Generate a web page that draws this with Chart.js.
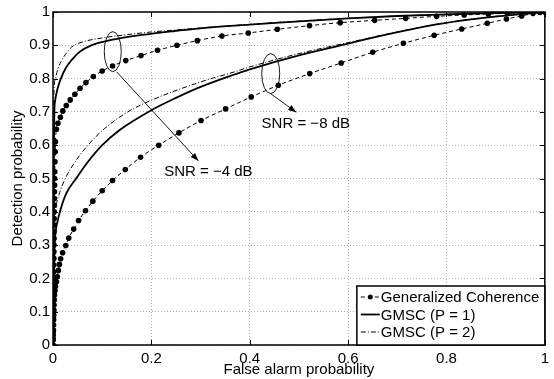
<!DOCTYPE html>
<html>
<head>
<meta charset="utf-8">
<script src="https://cdn.jsdelivr.net/npm/chart.js@4.4.0/dist/chart.umd.min.js"></script>
<style>
  html, body { margin: 0; padding: 0; background: #fff; }
  #wrap { width: 554px; height: 379px; }
</style>
</head>
<body>
<div id="wrap"><canvas id="roc" width="554" height="379"></canvas></div>
<script>
// tick values
const xTicks = [0, 0.2, 0.4, 0.6, 0.8, 1];
const yTicks = [0, 0.1, 0.2, 0.3, 0.4, 0.5, 0.6, 0.7, 0.8, 0.9, 1];

// Generalized Coherence, SNR = -4 dB
const gcM4X = [0, 0.0004, 0.0006, 0.0008, 0.0009, 0.001, 0.0011, 0.0012, 0.0013, 0.0014, 0.0015, 0.0016, 0.0017, 0.0018, 0.0019, 0.002, 0.0021, 0.0022, 0.0023, 0.0024, 0.0025, 0.0026, 0.0028, 0.003, 0.0032, 0.0034, 0.0036, 0.004, 0.0045, 0.005, 0.007, 0.010, 0.015, 0.020, 0.027, 0.035, 0.0445, 0.055, 0.067, 0.082, 0.100, 0.121, 0.148, 0.179, 0.2125, 0.252, 0.2935, 0.3435, 0.397, 0.456, 0.5215, 0.584, 0.654, 0.717, 0.78, 0.836, 0.885, 0.924, 0.953, 0.976, 0.99, 1];
const gcM4Y = [0, 0.02, 0.04, 0.06, 0.08, 0.10, 0.12, 0.14, 0.16, 0.18, 0.20, 0.22, 0.24, 0.26, 0.28, 0.30, 0.32, 0.34, 0.36, 0.38, 0.40, 0.42, 0.44, 0.46, 0.48, 0.50, 0.52, 0.55, 0.58, 0.61, 0.648, 0.666, 0.684, 0.703, 0.719, 0.736, 0.753, 0.771, 0.788, 0.806, 0.823, 0.838, 0.854, 0.869, 0.885, 0.900, 0.914, 0.928, 0.937, 0.948, 0.959, 0.968, 0.975, 0.981, 0.987, 0.991, 0.994, 0.996, 0.998, 0.999, 1, 1];

// Generalized Coherence, SNR = -8 dB
const gcM8X = [0, 0.0003, 0.0005, 0.0008, 0.001, 0.0012, 0.0015, 0.0018, 0.002, 0.0025, 0.003, 0.004, 0.005, 0.007, 0.0088, 0.011, 0.013, 0.0155, 0.0195, 0.026, 0.032, 0.042, 0.052, 0.066, 0.081, 0.100, 0.121, 0.147, 0.178, 0.215, 0.256, 0.301, 0.351, 0.403, 0.458, 0.522, 0.586, 0.650, 0.7125, 0.775, 0.831, 0.883, 0.922, 0.953, 0.976, 0.99, 1];
const gcM8Y = [0, 0.015, 0.03, 0.045, 0.06, 0.075, 0.09, 0.105, 0.12, 0.135, 0.15, 0.163, 0.176, 0.19, 0.205, 0.224, 0.242, 0.259, 0.277, 0.299, 0.321, 0.348, 0.374, 0.403, 0.432, 0.463, 0.494, 0.527, 0.564, 0.600, 0.637, 0.674, 0.709, 0.745, 0.780, 0.815, 0.847, 0.879, 0.906, 0.930, 0.949, 0.966, 0.979, 0.988, 0.996, 0.999, 1];

// GMSC (P = 1)
const p1M4X = [0, 0.001, 0.002, 0.003, 0.004, 0.0095, 0.016, 0.0257, 0.041, 0.0547, 0.078, 0.119, 0.18, 0.247, 0.3, 0.4, 0.46, 0.6, 0.7, 0.8, 0.9, 1];
const p1M4Y = [0, 0.3, 0.6, 0.71, 0.73, 0.771, 0.80, 0.831, 0.861, 0.881, 0.90, 0.916, 0.931, 0.943, 0.951, 0.962, 0.968, 0.981, 0.988, 0.993, 0.997, 1];
const p1M8X = [0, 0.001, 0.002, 0.003, 0.005, 0.009, 0.015, 0.027, 0.047, 0.07, 0.1, 0.135, 0.2, 0.25, 0.3, 0.364, 0.4, 0.5, 0.6, 0.642, 0.7227, 0.777, 0.85, 0.925, 1];
const p1M8Y = [0, 0.1, 0.2, 0.28, 0.335, 0.37, 0.405, 0.455, 0.50, 0.548, 0.60, 0.645, 0.705, 0.742, 0.775, 0.81, 0.828, 0.87, 0.905, 0.92, 0.946, 0.962, 0.978, 0.99, 1];

// GMSC (P = 2)
const p2M4X = [0, 0.001, 0.0015, 0.002, 0.005, 0.01, 0.018, 0.025, 0.038, 0.06, 0.1, 0.15, 0.2, 0.25, 0.3, 0.4, 0.5, 0.6, 0.7, 0.8, 0.9, 1];
const p2M4Y = [0, 0.4, 0.7, 0.76, 0.80, 0.83, 0.855, 0.872, 0.895, 0.91, 0.922, 0.932, 0.94, 0.946, 0.952, 0.963, 0.973, 0.981, 0.988, 0.993, 0.997, 1];
const p2M8X = [0, 0.001, 0.002, 0.003, 0.006, 0.012, 0.025, 0.045, 0.071, 0.105, 0.152, 0.2, 0.3, 0.364, 0.4, 0.5, 0.6, 0.7, 0.8, 0.9, 1];
const p2M8Y = [0, 0.15, 0.28, 0.35, 0.41, 0.45, 0.50, 0.55, 0.60, 0.65, 0.70, 0.735, 0.79, 0.818, 0.835, 0.875, 0.908, 0.94, 0.968, 0.987, 1];

const legendLabels = ['Generalized Coherence', 'GMSC (P = 1)', 'GMSC (P = 2)'];
const snrLabels = ['SNR = \u22124 dB', 'SNR = \u22128 dB'];

const FONT = '"Liberation Sans", Arial, Helvetica, sans-serif';

const toPoints = (xs, ys) => xs.map((v, i) => ({ x: v, y: ys[i] }));

const gcStyle = { borderColor: '#000', backgroundColor: '#000', borderWidth: 1, borderDash: [4, 3], pointRadius: 2.8, pointBackgroundColor: '#000', pointBorderWidth: 0 };
const p1Style = { borderColor: '#000', borderWidth: 1.8, pointRadius: 0 };
const p2Style = { borderColor: '#000', borderWidth: 1, borderDash: [5, 2, 1, 2], pointRadius: 0 };

// annotation placement (data coords) for ellipse, arrow and label
const notes = [
  { ex: 0.1215, ey: 0.881, rx: 8.5, ry: 20, ax0: 0.1296, ay0: 0.82, ax1: 0.2955, ay1: 0.553, tx: 0.3158, ty: 0.519, text: snrLabels[0] },
  { ex: 0.4427, ey: 0.815, rx: 9, ry: 20, ax0: 0.4433, ay0: 0.754, ax1: 0.4945, ay1: 0.699, tx: 0.514, ty: 0.664, text: snrLabels[1] }
];

function drawArrow(ctx, x0, y0, x1, y1) {
  ctx.beginPath();
  ctx.moveTo(x0, y0);
  ctx.lineTo(x1, y1);
  ctx.stroke();
  const ang = Math.atan2(y1 - y0, x1 - x0);
  const len = 8, w = 3;
  ctx.beginPath();
  ctx.moveTo(x1, y1);
  ctx.lineTo(x1 - len * Math.cos(ang) + w * Math.sin(ang), y1 - len * Math.sin(ang) - w * Math.cos(ang));
  ctx.lineTo(x1 - len * Math.cos(ang) - w * Math.sin(ang), y1 - len * Math.sin(ang) + w * Math.cos(ang));
  ctx.closePath();
  ctx.fill();
}

const decor = {
  id: 'decor',
  afterDatasetsDraw(chart) {
    const { ctx, chartArea: a, scales: { x, y } } = chart;
    ctx.save();
    ctx.strokeStyle = '#000';
    ctx.fillStyle = '#000';
    ctx.setLineDash([]);

    // inner ticks
    ctx.lineWidth = 1;
    ctx.beginPath();
    xTicks.forEach(v => {
      const px = Math.round(x.getPixelForValue(v)) + 0.5;
      ctx.moveTo(px, a.bottom); ctx.lineTo(px, a.bottom - 5);
      ctx.moveTo(px, a.top); ctx.lineTo(px, a.top + 5);
    });
    yTicks.forEach(v => {
      const py = Math.round(y.getPixelForValue(v)) + 0.5;
      ctx.moveTo(a.left, py); ctx.lineTo(a.left + 5, py);
      ctx.moveTo(a.right, py); ctx.lineTo(a.right - 5, py);
    });
    ctx.stroke();

    // frame
    ctx.lineWidth = 1.5;
    ctx.strokeRect(a.left, a.top, a.right - a.left, a.bottom - a.top);

    // annotations
    ctx.lineWidth = 0.9;
    ctx.font = '15px ' + FONT;
    ctx.textAlign = 'center';
    ctx.textBaseline = 'middle';
    notes.forEach(n => {
      ctx.beginPath();
      ctx.ellipse(x.getPixelForValue(n.ex), y.getPixelForValue(n.ey), n.rx, n.ry, 0, 0, Math.PI * 2);
      ctx.stroke();
      drawArrow(ctx, x.getPixelForValue(n.ax0), y.getPixelForValue(n.ay0), x.getPixelForValue(n.ax1), y.getPixelForValue(n.ay1));
      ctx.fillText(n.text, x.getPixelForValue(n.tx), y.getPixelForValue(n.ty));
    });

    // legend box, bottom right inside the plot
    const bw = 188, bh = 59;
    const bx = a.right - bw, by = a.bottom - bh;
    ctx.fillStyle = '#fff';
    ctx.fillRect(bx, by, bw, bh);
    ctx.lineWidth = 1.5;
    ctx.strokeRect(bx, by, bw, bh);
    const styles = [gcStyle, p1Style, p2Style];
    ctx.textAlign = 'left';
    legendLabels.forEach((lab, i) => {
      const ry = by + 11 + i * 17.5;
      const st = styles[i];
      ctx.strokeStyle = '#000';
      ctx.lineWidth = st.borderWidth;
      ctx.setLineDash(st.borderDash || []);
      ctx.beginPath();
      ctx.moveTo(bx + 4, ry); ctx.lineTo(bx + 23, ry);
      ctx.stroke();
      ctx.setLineDash([]);
      if (st.pointRadius) {
        ctx.fillStyle = '#000';
        ctx.beginPath();
        ctx.arc(bx + 13.5, ry, 2.5, 0, Math.PI * 2);
        ctx.fill();
      }
      ctx.fillStyle = '#000';
      ctx.fillText(lab, bx + 24, ry + 1);
    });
    ctx.restore();
  }
};

const tickText = v => String(v);

new Chart(document.getElementById('roc'), {
  type: 'line',
  data: {
    datasets: [
      { label: legendLabels[0], data: toPoints(gcM4X, gcM4Y), ...gcStyle },
      { label: legendLabels[0], data: toPoints(gcM8X, gcM8Y), ...gcStyle },
      { label: legendLabels[1], data: toPoints(p1M4X, p1M4Y), ...p1Style },
      { label: legendLabels[1], data: toPoints(p1M8X, p1M8Y), ...p1Style },
      { label: legendLabels[2], data: toPoints(p2M4X, p2M4Y), ...p2Style },
      { label: legendLabels[2], data: toPoints(p2M8X, p2M8Y), ...p2Style }
    ]
  },
  options: {
    responsive: false,
    animation: false,
    layout: { padding: { top: 12, right: 7, left: 0, bottom: 0 } },
    plugins: { legend: { display: false }, tooltip: { enabled: false } },
    elements: { line: { cubicInterpolationMode: 'monotone', fill: false } },
    scales: {
      x: {
        type: 'linear',
        min: 0, max: 1,
        afterBuildTicks: s => { s.ticks = xTicks.map(v => ({ value: v })); },
        afterFit: s => { s.height = 34; },
        grid: { color: '#b4b4b4', lineWidth: 1, drawTicks: false },
        border: { display: false, dash: [1, 2] },
        ticks: { color: '#000', padding: 5, font: { family: FONT, size: 15 }, maxRotation: 0, callback: tickText },
        title: { display: true, text: 'False alarm probability', color: '#000', padding: { top: -5, bottom: 0 }, font: { family: FONT, size: 15 } }
      },
      y: {
        type: 'linear',
        min: 0, max: 1,
        afterBuildTicks: s => { s.ticks = yTicks.map(v => ({ value: v })); },
        afterFit: s => { s.width = 53; },
        grid: { color: '#b4b4b4', lineWidth: 1, drawTicks: false },
        border: { display: false, dash: [1, 2] },
        ticks: { color: '#000', padding: 3, font: { family: FONT, size: 15 }, callback: tickText },
        title: { display: true, text: 'Detection probability', color: '#000', padding: { top: 9, bottom: 0 }, font: { family: FONT, size: 15 } }
      }
    }
  },
  plugins: [decor]
});
</script>
</body>
</html>
